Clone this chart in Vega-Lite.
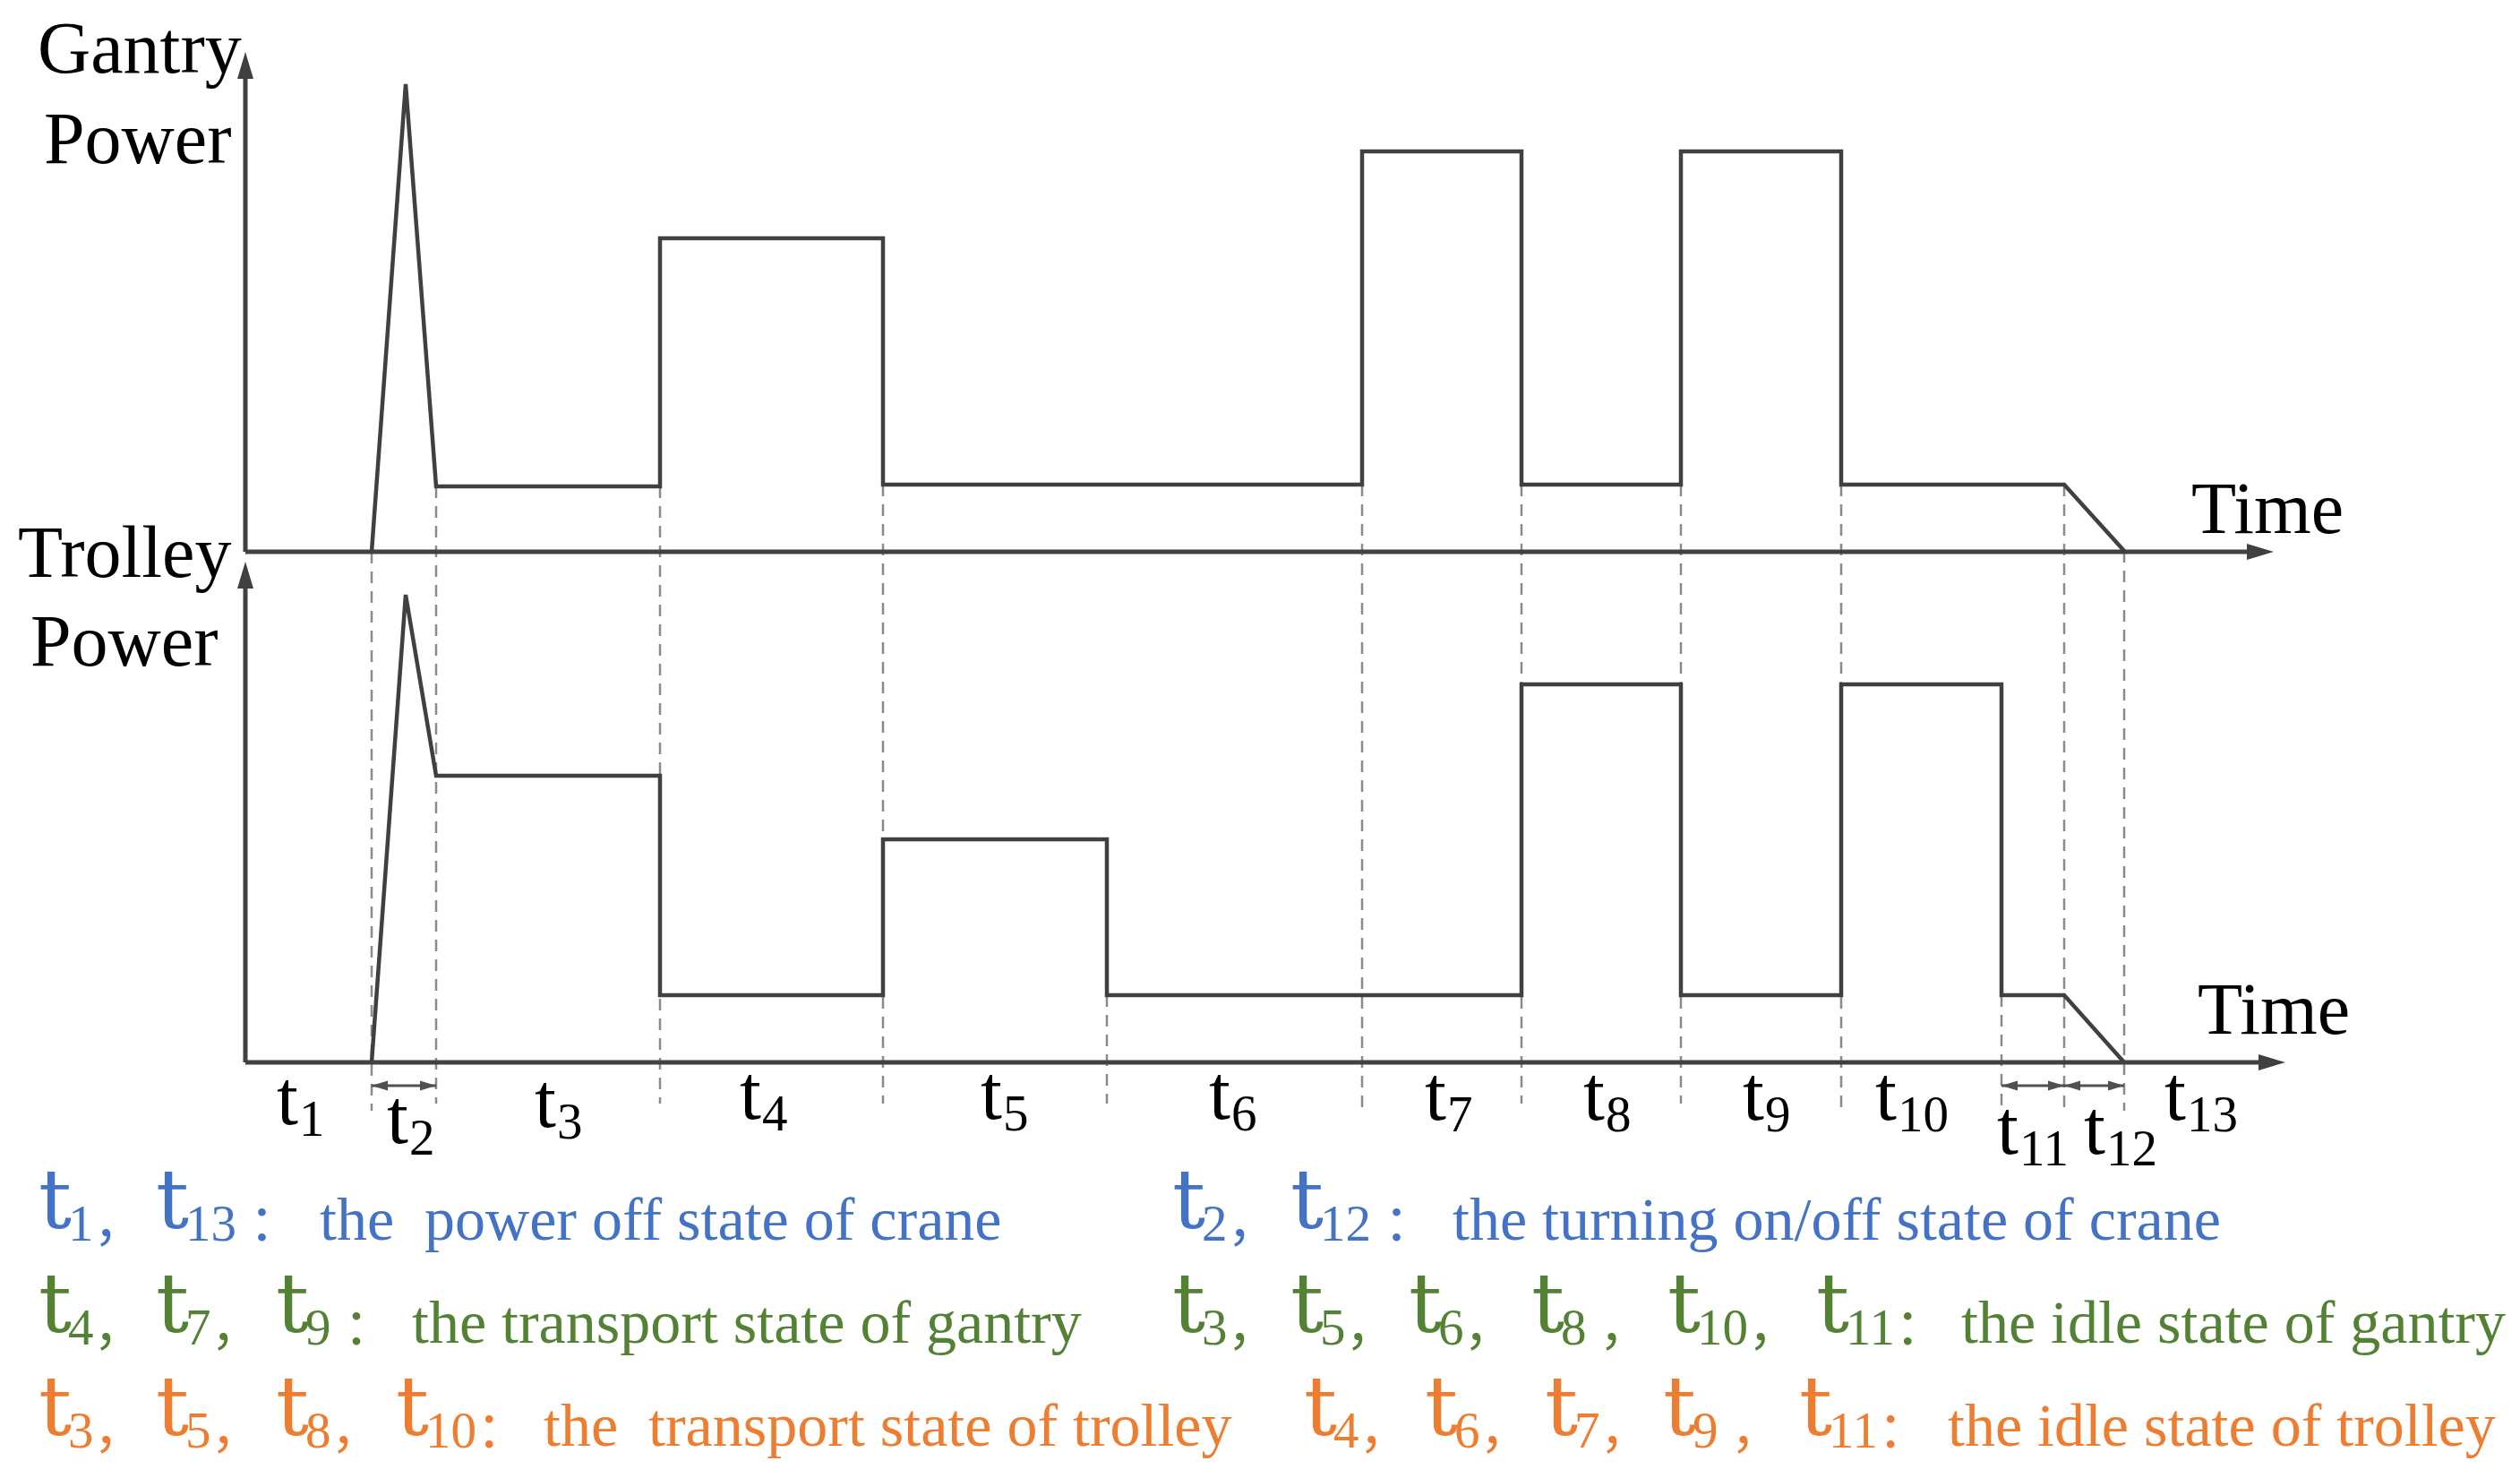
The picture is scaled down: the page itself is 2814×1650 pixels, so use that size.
{
  "$schema": "https://vega.github.io/schema/vega-lite/v6.json",
  "width": 2814,
  "height": 1650,
  "autosize": {"type": "fit", "contains": "padding"},
  "padding": 0,
  "background": "white",
  "config": {"view": {"stroke": null}},
  "datasets": {
    "power": [
      {"series": "gantry", "i": 1, "x": 415, "y": 616},
      {"series": "gantry", "i": 2, "x": 453, "y": 94},
      {"series": "gantry", "i": 3, "x": 487, "y": 543},
      {"series": "gantry", "i": 4, "x": 737, "y": 543},
      {"series": "gantry", "i": 5, "x": 737, "y": 266},
      {"series": "gantry", "i": 6, "x": 986, "y": 266},
      {"series": "gantry", "i": 7, "x": 986, "y": 541},
      {"series": "gantry", "i": 8, "x": 1521, "y": 541},
      {"series": "gantry", "i": 9, "x": 1521, "y": 169},
      {"series": "gantry", "i": 10, "x": 1699, "y": 169},
      {"series": "gantry", "i": 11, "x": 1699, "y": 541},
      {"series": "gantry", "i": 12, "x": 1877, "y": 541},
      {"series": "gantry", "i": 13, "x": 1877, "y": 169},
      {"series": "gantry", "i": 14, "x": 2056, "y": 169},
      {"series": "gantry", "i": 15, "x": 2056, "y": 541},
      {"series": "gantry", "i": 16, "x": 2305, "y": 541},
      {"series": "gantry", "i": 17, "x": 2372, "y": 615},
      {"series": "trolley", "i": 1, "x": 415, "y": 1186},
      {"series": "trolley", "i": 2, "x": 453, "y": 664},
      {"series": "trolley", "i": 3, "x": 487, "y": 866},
      {"series": "trolley", "i": 4, "x": 737, "y": 866},
      {"series": "trolley", "i": 5, "x": 737, "y": 1111},
      {"series": "trolley", "i": 6, "x": 986, "y": 1111},
      {"series": "trolley", "i": 7, "x": 986, "y": 937},
      {"series": "trolley", "i": 8, "x": 1236, "y": 937},
      {"series": "trolley", "i": 9, "x": 1236, "y": 1111},
      {"series": "trolley", "i": 10, "x": 1699, "y": 1111},
      {"series": "trolley", "i": 11, "x": 1699, "y": 764},
      {"series": "trolley", "i": 12, "x": 1877, "y": 764},
      {"series": "trolley", "i": 13, "x": 1877, "y": 1111},
      {"series": "trolley", "i": 14, "x": 2056, "y": 1111},
      {"series": "trolley", "i": 15, "x": 2056, "y": 764},
      {"series": "trolley", "i": 16, "x": 2235, "y": 764},
      {"series": "trolley", "i": 17, "x": 2235, "y": 1111},
      {"series": "trolley", "i": 18, "x": 2305, "y": 1111},
      {"series": "trolley", "i": 19, "x": 2372, "y": 1186}
    ],
    "dashes": [
      {"x": 415, "y1": 616, "y2": 1240},
      {"x": 487, "y1": 543, "y2": 1232},
      {"x": 737, "y1": 543, "y2": 1232},
      {"x": 986, "y1": 541, "y2": 1232},
      {"x": 1236, "y1": 1111, "y2": 1232},
      {"x": 1521, "y1": 541, "y2": 1240},
      {"x": 1699, "y1": 541, "y2": 1232},
      {"x": 1877, "y1": 541, "y2": 1232},
      {"x": 2056, "y1": 541, "y2": 1240},
      {"x": 2235, "y1": 1111, "y2": 1240},
      {"x": 2305, "y1": 541, "y2": 1240},
      {"x": 2372, "y1": 615, "y2": 1240}
    ],
    "axes": [
      {"x": 274, "y": 616, "x2": 2526, "y2": 616},
      {"x": 274, "y": 616, "x2": 274, "y2": 74},
      {"x": 274, "y": 1186, "x2": 2539, "y2": 1186},
      {"x": 274, "y": 1186, "x2": 274, "y2": 643}
    ],
    "bigArrows": [
      {"x": 274, "y": 73, "dir": "up"},
      {"x": 274, "y": 642, "dir": "up"},
      {"x": 2524, "y": 616, "dir": "right"},
      {"x": 2537, "y": 1186, "dir": "right"}
    ],
    "spans": [
      {"x": 415, "x2": 487, "y": 1212},
      {"x": 2235, "x2": 2305, "y": 1212},
      {"x": 2305, "x2": 2372, "y": 1212}
    ],
    "smallArrows": [
      {"x": 424, "y": 1212, "dir": "left"},
      {"x": 478, "y": 1212, "dir": "right"},
      {"x": 2244, "y": 1212, "dir": "left"},
      {"x": 2296, "y": 1212, "dir": "right"},
      {"x": 2314, "y": 1212, "dir": "left"},
      {"x": 2363, "y": 1212, "dir": "right"}
    ],
    "titles": [
      {"x": 42, "y": 81, "text": "Gantry"},
      {"x": 49, "y": 182, "text": "Power"},
      {"x": 20, "y": 644, "text": "Trolley"},
      {"x": 34, "y": 743, "text": "Power"},
      {"x": 2447, "y": 595, "text": "Time"},
      {"x": 2454, "y": 1154, "text": "Time"}
    ],
    "periods": [
      {"x": 309, "y": 1255, "sub": "1"},
      {"x": 432, "y": 1276, "sub": "2"},
      {"x": 597, "y": 1258, "sub": "3"},
      {"x": 826, "y": 1249, "sub": "4"},
      {"x": 1095, "y": 1249, "sub": "5"},
      {"x": 1350, "y": 1249, "sub": "6"},
      {"x": 1591, "y": 1250, "sub": "7"},
      {"x": 1768, "y": 1250, "sub": "8"},
      {"x": 1946, "y": 1250, "sub": "9"},
      {"x": 2094, "y": 1250, "sub": "10"},
      {"x": 2230, "y": 1288, "sub": "11"},
      {"x": 2327, "y": 1288, "sub": "12"},
      {"x": 2417, "y": 1250, "sub": "13"}
    ],
    "legendT": [
      {"x": 43, "y": 1371, "sub": "1，", "grp": "crane"},
      {"x": 174, "y": 1371, "sub": "13 ：", "grp": "crane"},
      {"x": 1309, "y": 1371, "sub": "2，", "grp": "crane"},
      {"x": 1441, "y": 1371, "sub": "12 ：", "grp": "crane"},
      {"x": 43, "y": 1487, "sub": "4，", "grp": "gantry"},
      {"x": 174, "y": 1487, "sub": "7，", "grp": "gantry"},
      {"x": 308, "y": 1487, "sub": "9 ：", "grp": "gantry"},
      {"x": 1309, "y": 1487, "sub": "3，", "grp": "gantry"},
      {"x": 1441, "y": 1487, "sub": "5，", "grp": "gantry"},
      {"x": 1573, "y": 1487, "sub": "6，", "grp": "gantry"},
      {"x": 1710, "y": 1487, "sub": "8 ，", "grp": "gantry"},
      {"x": 1862, "y": 1487, "sub": "10，", "grp": "gantry"},
      {"x": 2028, "y": 1487, "sub": "11：", "grp": "gantry"},
      {"x": 43, "y": 1602, "sub": "3，", "grp": "trolley"},
      {"x": 174, "y": 1602, "sub": "5，", "grp": "trolley"},
      {"x": 308, "y": 1602, "sub": "8，", "grp": "trolley"},
      {"x": 442, "y": 1602, "sub": "10：", "grp": "trolley"},
      {"x": 1456, "y": 1602, "sub": "4，", "grp": "trolley"},
      {"x": 1591, "y": 1602, "sub": "6，", "grp": "trolley"},
      {"x": 1725, "y": 1602, "sub": "7，", "grp": "trolley"},
      {"x": 1857, "y": 1602, "sub": "9 ，", "grp": "trolley"},
      {"x": 2009, "y": 1602, "sub": "11：", "grp": "trolley"}
    ],
    "legendDesc": [
      {"x": 357, "y": 1384, "text": "the \u00a0power off state of crane", "grp": "crane"},
      {"x": 1622, "y": 1384, "text": "the turning on/off state of crane", "grp": "crane"},
      {"x": 460, "y": 1499, "text": "the transport state of gantry", "grp": "gantry"},
      {"x": 2190, "y": 1499, "text": "the idle state of gantry", "grp": "gantry"},
      {"x": 607, "y": 1614, "text": "the \u00a0transport state of trolley", "grp": "trolley"},
      {"x": 2175, "y": 1614, "text": "the idle state of trolley", "grp": "trolley"}
    ]
  },
  "layer": [
    {
      "data": {"name": "dashes"},
      "mark": {"type": "rule", "color": "#8a8a8a", "strokeWidth": 2.5, "strokeDash": [13, 9]},
      "encoding": {
        "x": {"field": "x", "type": "quantitative", "scale": {"domain": [0, 2814], "nice": false, "zero": false}, "axis": null},
        "y": {"field": "y1", "type": "quantitative", "scale": {"domain": [0, 1650], "nice": false, "zero": false, "reverse": true}, "axis": null},
        "y2": {"field": "y2"}
      }
    },
    {
      "data": {"name": "axes"},
      "mark": {"type": "rule", "color": "#404040", "strokeWidth": 5},
      "encoding": {
        "x": {"field": "x", "type": "quantitative"},
        "y": {"field": "y", "type": "quantitative"},
        "x2": {"field": "x2"},
        "y2": {"field": "y2"}
      }
    },
    {
      "data": {"name": "spans"},
      "mark": {"type": "rule", "color": "#505050", "strokeWidth": 3},
      "encoding": {
        "x": {"field": "x", "type": "quantitative"},
        "x2": {"field": "x2"},
        "y": {"field": "y", "type": "quantitative"}
      }
    },
    {
      "data": {"name": "bigArrows"},
      "mark": {"type": "point", "filled": true, "color": "#404040", "opacity": 1, "size": 900, "strokeWidth": 0},
      "encoding": {
        "x": {"field": "x", "type": "quantitative"},
        "y": {"field": "y", "type": "quantitative"},
        "shape": {"field": "dir", "type": "nominal", "scale": {"domain": ["up", "right", "left"], "range": ["M-0.6,1L0.6,1L0,-1Z", "M-1,-0.6L-1,0.6L1,0Z", "M1,-0.6L1,0.6L-1,0Z"]}, "legend": null}
      }
    },
    {
      "data": {"name": "smallArrows"},
      "mark": {"type": "point", "filled": true, "color": "#505050", "opacity": 1, "size": 324, "strokeWidth": 0},
      "encoding": {
        "x": {"field": "x", "type": "quantitative"},
        "y": {"field": "y", "type": "quantitative"},
        "shape": {"field": "dir", "type": "nominal", "legend": null}
      }
    },
    {
      "data": {"name": "power"},
      "mark": {"type": "line", "color": "#404040", "strokeWidth": 4.5},
      "encoding": {
        "x": {"field": "x", "type": "quantitative"},
        "y": {"field": "y", "type": "quantitative"},
        "detail": {"field": "series", "type": "nominal"},
        "order": {"field": "i", "type": "quantitative"}
      }
    },
    {
      "data": {"name": "titles"},
      "mark": {"type": "text", "font": "Liberation Serif", "fontSize": 82, "align": "left", "baseline": "alphabetic", "color": "#000000"},
      "encoding": {
        "x": {"field": "x", "type": "quantitative"},
        "y": {"field": "y", "type": "quantitative"},
        "text": {"field": "text"}
      }
    },
    {
      "data": {"name": "periods"},
      "mark": {"type": "text", "font": "Liberation Serif", "fontSize": 86, "align": "left", "baseline": "alphabetic", "color": "#000000", "text": "t"},
      "encoding": {
        "x": {"field": "x", "type": "quantitative"},
        "y": {"field": "y", "type": "quantitative"}
      }
    },
    {
      "data": {"name": "periods"},
      "mark": {"type": "text", "font": "Liberation Serif", "fontSize": 57, "align": "left", "baseline": "alphabetic", "color": "#000000", "dx": 25, "dy": 13},
      "encoding": {
        "x": {"field": "x", "type": "quantitative"},
        "y": {"field": "y", "type": "quantitative"},
        "text": {"field": "sub"}
      }
    },
    {
      "data": {"name": "legendT"},
      "mark": {"type": "text", "font": "DejaVu Serif", "fontSize": 92, "align": "left", "baseline": "alphabetic", "text": "t"},
      "encoding": {
        "x": {"field": "x", "type": "quantitative"},
        "y": {"field": "y", "type": "quantitative"},
        "color": {"field": "grp", "type": "nominal", "scale": {"domain": ["crane", "gantry", "trolley"], "range": ["#4472C4", "#548235", "#ED7D31"]}, "legend": null}
      }
    },
    {
      "data": {"name": "legendT"},
      "mark": {"type": "text", "font": "Liberation Serif, Noto Sans CJK SC", "fontSize": 57, "align": "left", "baseline": "alphabetic", "dx": 33, "dy": 14},
      "encoding": {
        "x": {"field": "x", "type": "quantitative"},
        "y": {"field": "y", "type": "quantitative"},
        "text": {"field": "sub"},
        "color": {"field": "grp", "type": "nominal", "legend": null}
      }
    },
    {
      "data": {"name": "legendDesc"},
      "mark": {"type": "text", "font": "Liberation Serif", "fontSize": 68, "align": "left", "baseline": "alphabetic"},
      "encoding": {
        "x": {"field": "x", "type": "quantitative"},
        "y": {"field": "y", "type": "quantitative"},
        "text": {"field": "text"},
        "color": {"field": "grp", "type": "nominal", "legend": null}
      }
    }
  ]
}
